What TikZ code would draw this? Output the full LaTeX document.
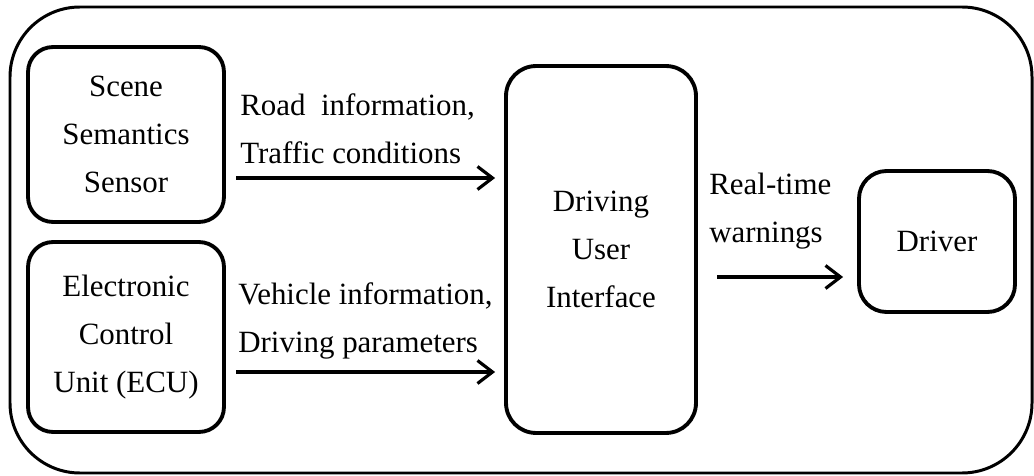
\documentclass[tikz,border=0pt]{standalone}
\usepackage{fontspec}
\setmainfont{Liberation Serif}
\usetikzlibrary{arrows.meta,positioning,calc}

\begin{document}
\begin{tikzpicture}[x=0.02cm,y=-0.02cm,
    font=\fontsize{17.6pt}{27.4pt}\selectfont,
    box/.style={draw,line width=2.2pt,rounded corners=0.5cm,align=center,inner sep=0pt},
    flow/.style={line width=1.8pt,-{Straight Barb[length=0.3cm,width=0.46cm,line width=1.8pt]}},
    lbl/.style={align=left,inner sep=0pt,anchor=south west}]
    \useasboundingbox (0,0) rectangle (1034,476);

    % Outer frame
    \draw[line width=1.7pt,rounded corners=1.4cm] (10,7) rectangle (1032,473);

    % Sources
    \node[box,minimum width=3.92cm,minimum height=3.5cm] (scene) at (126,134.5) {Scene\\Semantics\\Sensor};
    \node[box,minimum width=3.92cm,minimum height=3.8cm] (ecu) at (126,337) {Electronic\\Control\\Unit (ECU)};

    % Interface and driver
    \node[box,rounded corners=0.6cm,minimum width=3.8cm,minimum height=7.34cm] (dui) at (601,249.5) {Driving\\User\\Interface};
    \node[box,rounded corners=0.55cm,minimum width=3.12cm,minimum height=2.82cm] (driver) at (937,241.5) {Driver};

    % Arrows
    \coordinate (s1) at (236,178);
    \coordinate (s2) at (236,372);
    \coordinate (s3) at (717,277);
    \draw[flow,shorten >=0.18cm] (s1) -- (s1 -| dui.west);
    \draw[flow,shorten >=0.18cm] (s2) -- (s2 -| dui.west);
    \draw[flow,shorten >=0.28cm] (s3) -- (s3 -| driver.west);

    % Labels
    \node[lbl] (road) at (240,164) {Road\ \ information,\\Traffic conditions};
    \node[lbl] (veh) at (238,360) {Vehicle information,\\Driving parameters};
    \node[lbl] (warn) at (709,250) {Real-time\\warnings};
\end{tikzpicture}
\end{document}
